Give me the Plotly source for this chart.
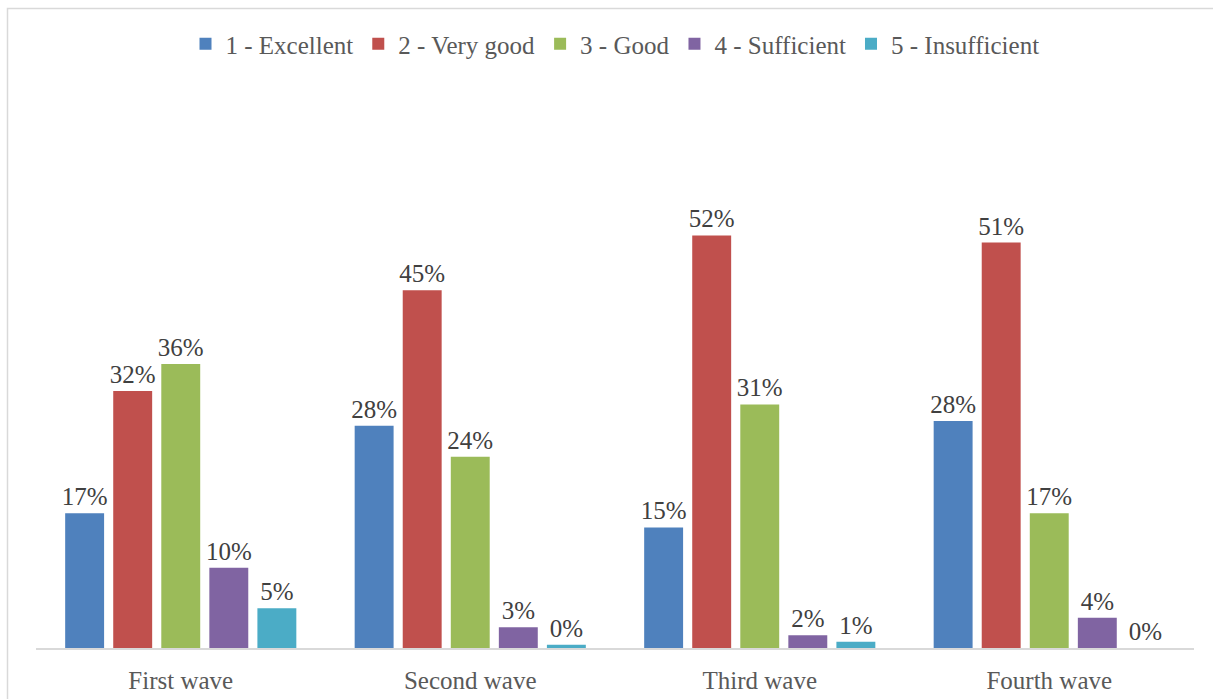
import plotly.graph_objects as go

waves = ["First wave", "Second wave", "Third wave", "Fourth wave"]
series_names = ["1 - Excellent", "2 - Very good", "3 - Good", "4 - Sufficient", "5 - Insufficient"]
excellent = [17.0, 28.0, 15.2, 28.6]
very_good = [32.4, 45.1, 52.0, 51.1]
good = [35.8, 24.1, 30.7, 17.0]
sufficient = [10.1, 2.6, 1.6, 3.8]
insufficient = [5.0, 0.4, 0.8, 0.0]
excellent_lbl = ["17%", "28%", "15%", "28%"]
very_good_lbl = ["32%", "45%", "52%", "51%"]
good_lbl = ["36%", "24%", "31%", "17%"]
sufficient_lbl = ["10%", "3%", "2%", "4%"]
insufficient_lbl = ["5%", "0%", "1%", "0%"]
colors = ["#4F81BD", "#C0504D", "#9BBB59", "#8064A2", "#4BACC6"]

series = [excellent, very_good, good, sufficient, insufficient]
labels = [excellent_lbl, very_good_lbl, good_lbl, sufficient_lbl, insufficient_lbl]

FONT = "Liberation Serif"
fig = go.Figure()
for name, vals, lbls, c in zip(series_names, series, labels, colors):
    fig.add_trace(go.Bar(
        x=waves, y=vals, name=name, marker=dict(color=c, line=dict(width=0)),
        text=lbls, textposition="outside", cliponaxis=False, constraintext="none",
        textfont=dict(family=FONT, size=25, color="#404040"),
    ))

W, H = 1213, 699
ml, mr, mt, mb = 36, 19, 172, 51
pw, ph = W - ml - mr, H - mt - mb
fig.update_layout(
    width=W, height=H,
    margin=dict(l=ml, r=mr, t=mt, b=mb, autoexpand=False),
    paper_bgcolor="white", plot_bgcolor="white",
    barmode="group", bargap=0.17, bargroupgap=0.19,
    font=dict(family=FONT, size=25, color="#595959"),
    showlegend=True,
    legend=dict(orientation="h", x=0.5, xanchor="center", y=(H - mb - 44) / ph, yanchor="middle",
                font=dict(family=FONT, size=25, color="#595959"), itemwidth=30,
                traceorder="normal"),
    xaxis=dict(showline=True, linecolor="#D9D9D9", linewidth=2, ticks="", showgrid=False,
               automargin=False,
               tickfont=dict(family=FONT, size=25, color="#595959"), ticklabelstandoff=9),
    yaxis=dict(range=[0, 60], visible=False, showgrid=False, automargin=False),
    shapes=[dict(type="rect", xref="paper", yref="paper",
                 x0=(7.5 - ml) / pw, x1=(W + 20 - ml) / pw,
                 y0=-(mb + 20) / ph, y1=(H - mb - 8.5) / ph,
                 line=dict(color="#D9D9D9", width=1.5), layer="below")],
)
fig.write_html("out.html", config={"displayModeBar": False},
               post_script="document.body.style.margin='0px';document.body.style.overflow='hidden';")
